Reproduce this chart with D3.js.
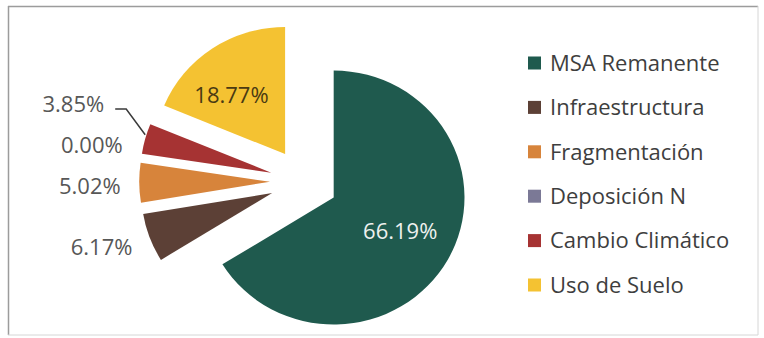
<!DOCTYPE html>
<html>
<head>
<meta charset="utf-8">
<script src="https://cdn.jsdelivr.net/npm/d3@7"></script>
<style>
  html, body { margin: 0; padding: 0; background: #ffffff; }
  text { font-family: "Open Sans", "Noto Sans", sans-serif; }
</style>
</head>
<body>
<svg id="chart" width="764" height="338"></svg>
<script>
// Pressure categories and their share of the original MSA (%)
const categories = ["MSA Remanente", "Infraestructura", "Fragmentación", "Deposición N", "Cambio Climático", "Uso de Suelo"];
const shares = [66.19, 6.17, 5.02, 0.00, 3.85, 18.77];
const colors = ["#1f5a4e", "#5c4036", "#d7843b", "#7b7996", "#a63333", "#f4c232"];

const svg = d3.select("#chart");

// Chart frame
svg.append("line").attr("x1", 8).attr("y1", 6.5).attr("x2", 758).attr("y2", 6.5)
  .attr("stroke", "#9c9c9c").attr("stroke-width", 1.5);
svg.append("line").attr("x1", 8.5).attr("y1", 6).attr("x2", 8.5).attr("y2", 335)
  .attr("stroke", "#9c9c9c").attr("stroke-width", 1.5);
svg.append("line").attr("x1", 758).attr("y1", 6).attr("x2", 758).attr("y2", 335)
  .attr("stroke", "#d6d6d6").attr("stroke-width", 1);
svg.append("line").attr("x1", 8).attr("y1", 335).attr("x2", 758).attr("y2", 335)
  .attr("stroke", "#d6d6d6").attr("stroke-width", 1);

// Pie geometry (every slice pulled out from the centre)
const cx = 304, cy = 181.5, radius = 127, explode = 33, sx = 1.03;

const data = categories.map((c, i) => ({ name: c, value: shares[i], color: colors[i] }));
const pie = d3.pie().sort(null).value(d => d.value).startAngle(0).endAngle(2 * Math.PI);
const arc = d3.arc().innerRadius(0).outerRadius(radius);
const arcs = pie(data);

arcs.forEach(a => {
  const mid = (a.startAngle + a.endAngle) / 2;
  a.ux = Math.sin(mid);
  a.uy = -Math.cos(mid);
  a.ox = cx + explode * a.ux * sx;
  a.oy = cy + explode * a.uy;
  a.ex = a.ox + radius * a.ux * sx;   // outer edge point on the bisector
  a.ey = a.oy + radius * a.uy;
});

const slices = svg.append("g");
slices.selectAll("path")
  .data(arcs.filter(a => a.endAngle > a.startAngle))
  .join("path")
  .attr("transform", a => `translate(${a.ox},${a.oy}) scale(${sx},1)`)
  .attr("d", arc)
  .attr("fill", a => a.data.color);

// Data labels
const fmt = v => v.toFixed(2) + "%";
const labels = svg.append("g").attr("font-size", 22);

// Large slices: label inside the slice
arcs.filter(a => a.data.value > 10).forEach(a => {
  const r = radius * 0.6;
  let x = a.ox + r * a.ux * sx, y = a.oy + r * a.uy;
  if (a.data.name === "Uso de Suelo") { x -= 10; y += 5; }
  else { x -= 2; y -= 3; }
  labels.append("text")
    .attr("x", x).attr("y", y).attr("dy", "0.35em")
    .attr("text-anchor", "middle")
    .attr("fill", a.data.name === "MSA Remanente" ? "#eef1ef" : "#4a3a12")
    .text(fmt(a.data.value));
});

// Small slices: label outside, right-aligned next to the slice, stacked
// upwards so neighbouring labels do not overlap
const gap = 18, minSpacing = 41;
const outside = arcs.filter(a => a.data.value <= 10).map(a => ({
  a,
  x: a.ex + gap * a.ux * sx,
  y: a.ey + gap * a.uy + 3
})).sort((p, q) => q.y - p.y);

let prevY = Infinity;
outside.forEach(p => {
  p.natY = p.y;
  if (p.y > prevY - minSpacing) p.y = prevY - minSpacing;
  prevY = p.y;
});

outside.forEach(p => {
  const a = p.a;
  let x = p.x;
  if (p.natY - p.y > 20) {
    // displaced label: pull it left and connect it with a leader line
    const elbowX = a.ex - 19;
    x = elbowX - 22;
    labels.append("polyline")
      .attr("points", [[a.ex, a.ey - 4], [elbowX, p.y + 5], [x + 11, p.y + 5]].map(q => q.join(",")).join(" "))
      .attr("fill", "none").attr("stroke", "#3a3a3a").attr("stroke-width", 1.5);
  }
  labels.append("text")
    .attr("x", x).attr("y", p.y).attr("dy", "0.35em")
    .attr("text-anchor", "end")
    .attr("fill", "#575757")
    .text(fmt(a.data.value));
});

// Legend
const legend = svg.append("g").attr("transform", "translate(528,63)");
const step = 44.4;
const rows = legend.selectAll("g").data(data).join("g")
  .attr("transform", (d, i) => `translate(0,${i * step})`);
rows.append("rect").attr("x", 0).attr("y", -6.5).attr("width", 13).attr("height", 13)
  .attr("fill", d => d.color);
rows.append("text").attr("x", 22).attr("y", 0).attr("dy", "0.35em")
  .attr("font-size", 22).attr("fill", "#3e3e3e")
  .text(d => d.name);
</script>
</body>
</html>
